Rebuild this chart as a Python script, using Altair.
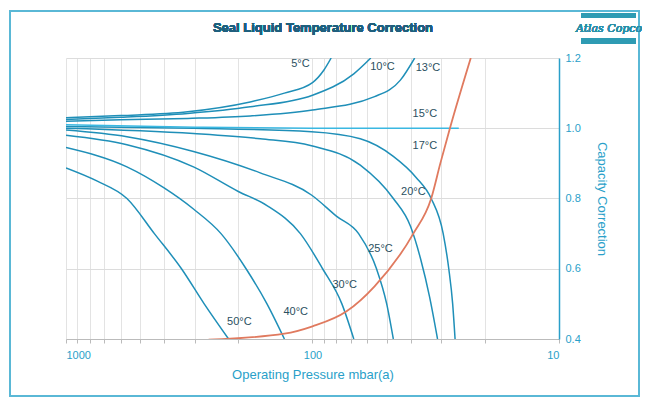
import altair as alt
import pandas as pd

# curve data: pressure (mbar a) and capacity correction
t5_p = [1000, 600, 321, 179, 130, 100, 90, 84]
t5_v = [1.03, 1.036, 1.047, 1.075, 1.10, 1.13, 1.165, 1.2]
t10_p = [1000, 600, 321, 179, 100, 68, 58]
t10_v = [1.025, 1.031, 1.042, 1.061, 1.094, 1.155, 1.2]
t13_p = [1000, 600, 321, 179, 100, 56, 44, 38.5]
t13_v = [1.02, 1.024, 1.028, 1.035, 1.052, 1.09, 1.137, 1.2]
t15_p = [1000, 300, 100, 25.5]
t15_v = [1.01, 1.003, 1.0, 1.0]
t17_p = [1000, 304, 101, 64, 47, 38, 33, 29.5, 28, 27, 26.4]
t17_v = [1.005, 1.0, 0.99, 0.97, 0.92, 0.86, 0.80, 0.70, 0.60, 0.50, 0.40]
t20_p = [1000, 304, 163, 101, 64, 47, 40, 36.4, 33.5, 31.1]
t20_v = [1.0, 0.985, 0.97, 0.95, 0.895, 0.80, 0.72, 0.627, 0.52, 0.40]
t25_p = [1000, 566, 304, 163, 101, 80, 65, 55, 50, 47]
t25_v = [0.995, 0.976, 0.934, 0.873, 0.81, 0.75, 0.70, 0.60, 0.50, 0.40]
t30_p = [1000, 566, 304, 200, 153, 112, 91, 76, 68]
t30_v = [0.98, 0.953, 0.89, 0.82, 0.78, 0.70, 0.60, 0.50, 0.40]
t40_p = [1000, 566, 400, 304, 235, 186, 153, 130]
t40_v = [0.945, 0.89, 0.83, 0.77, 0.70, 0.60, 0.50, 0.40]
t50_p = [1000, 750, 566, 438, 340, 275, 219]
t50_v = [0.887, 0.85, 0.80, 0.70, 0.60, 0.50, 0.40]
vap_p = [264, 130, 100, 73, 56, 39, 33, 30.3, 27.7, 22.8]
vap_v = [0.398, 0.415, 0.436, 0.478, 0.55, 0.70, 0.80, 0.90, 1.0, 1.2]

labels = ["5°C", "10°C", "13°C", "15°C", "17°C", "20°C", "25°C", "30°C", "40°C", "50°C"]
label_p = [112, 52, 34, 35, 35, 39, 53, 74, 117, 198]
label_v = [1.183, 1.174, 1.172, 1.041, 0.95, 0.819, 0.657, 0.555, 0.478, 0.447]

series = [("5", t5_p, t5_v), ("10", t10_p, t10_v), ("13", t13_p, t13_v),
          ("17", t17_p, t17_v), ("20", t20_p, t20_v),
          ("25", t25_p, t25_v), ("30", t30_p, t30_v), ("40", t40_p, t40_v), ("50", t50_p, t50_v)]
rows = []
for name, ps, vs in series:
    for i, (p, v) in enumerate(zip(ps, vs)):
        rows.append({"s": name, "p": p, "v": v, "o": i})
curves = pd.DataFrame(rows)
flat = pd.DataFrame({"p": t15_p, "v": t15_v, "o": range(len(t15_p))})
vap = pd.DataFrame({"p": vap_p, "v": vap_v, "o": range(len(vap_p))})
lab = pd.DataFrame({"t": labels, "p": label_p, "v": label_v})

tick_vals = [10, 20, 30, 40, 50, 60, 70, 80, 90, 100, 200, 300, 400, 500, 600, 700, 800, 900, 1000]
xs = alt.Scale(type="log", domain=[10, 1000], reverse=True)
ys = alt.Scale(domain=[0.4, 1.2])
X = alt.X("p:Q", scale=xs, axis=alt.Axis(
    values=tick_vals, title="Operating Pressure mbar(a)", format="d",
    labelExpr="(datum.value==10||datum.value==100||datum.value==1000) ? datum.label : ''",
    titleColor="#2a9fc9", titleFontWeight="normal", titleFontSize=13, titlePadding=8,
    labelColor="#2a9fc9", labelFontSize=11, labelPadding=6, tickSize=4, labelOverlap=False,
    domainColor="#bbbbbb", tickColor="#bbbbbb", gridColor="#e3e3e3"))
Y = alt.Y("v:Q", scale=ys, axis=alt.Axis(
    orient="right", values=[0.4, 0.5, 0.6, 0.7, 0.8, 0.9, 1.0, 1.1, 1.2], format=".1f",
    title="Capacity Correction", titleColor="#2a9fc9", titleFontWeight="normal",
    titleFontSize=13, titlePadding=14, labelColor="#2a9fc9", labelFontSize=11,
    labelOverlap=False, labelPadding=6, domainColor="#2a9fc9", domainWidth=1.5,
    tickSize=0, gridColor="#dcdcdc"))

base_lines = alt.Chart(curves).mark_line(color="#1f8fb8", strokeWidth=1.5, clip=True,
    interpolate="monotone").encode(x=X, y=Y, detail="s:N", order="o:Q")
flat_line = alt.Chart(flat).mark_line(color="#3ab8e2", strokeWidth=1.5, clip=True,
    interpolate="monotone").encode(x="p:Q", y="v:Q", order="o:Q")
vap_line = alt.Chart(vap).mark_line(color="#e07a5f", strokeWidth=1.8, clip=True,
    interpolate="monotone").encode(x="p:Q", y="v:Q", order="o:Q")
texts = alt.Chart(lab).mark_text(color="#2b4f60", fontSize=11, font="Liberation Sans").encode(
    x="p:Q", y="v:Q", text="t:N")

title = alt.Chart(lab).mark_text(text="Seal Liquid Temperature Correction", fontSize=13,
    fontWeight="bold", color="#1e5f7e", font="Liberation Sans").encode(
    x=alt.value(257), y=alt.value(-30))
logo_t = alt.Chart(lab).mark_text(text="Atlas Copco", fontSize=11, fontStyle="italic",
    color="#2a8fa8", font="DejaVu Serif").encode(x=alt.value(543), y=alt.value(-29))
logo_b1 = alt.Chart(lab).mark_rect(color="#2e9bb3").encode(
    x=alt.value(515), x2=alt.value(570), y=alt.value(-45), y2=alt.value(-40))
logo_b2 = alt.Chart(lab).mark_rect(color="#2e9bb3").encode(
    x=alt.value(515), x2=alt.value(570), y=alt.value(-20), y2=alt.value(-14))
frame = alt.Chart(lab).mark_rect(fill=None, stroke="#5bb8d6", strokeWidth=1.5).encode(
    x=alt.value(-56), x2=alt.value(573), y=alt.value(-47), y2=alt.value(338))

chart = alt.layer(frame, base_lines, flat_line, vap_line, texts, title, logo_b1, logo_b2, logo_t).properties(
    width=493, height=281,
    padding={"left": 58, "top": 50, "right": 83, "bottom": 58},
    autosize=alt.AutoSizeParams(type="none"),
).configure_view(stroke=None).configure_axis(labelFont="Liberation Sans", titleFont="Liberation Sans")

chart.save("out.html", embed_options={"renderer": "svg", "actions": False})
